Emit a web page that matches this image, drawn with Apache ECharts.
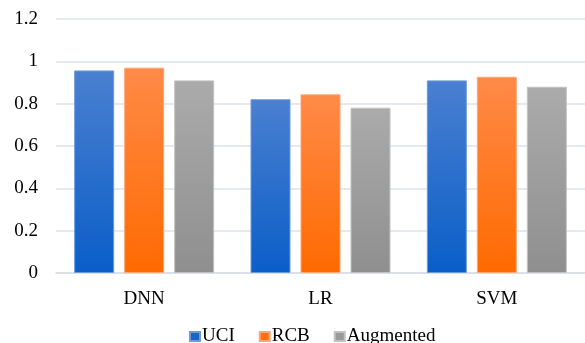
<!DOCTYPE html>
<html>
<head>
<meta charset="utf-8">
<script src="https://cdn.jsdelivr.net/npm/echarts@6/dist/echarts.min.js"></script>
<style>
  html, body { margin: 0; padding: 0; background: #fff; }
  #chart { width: 585px; height: 343px; }
</style>
</head>
<body>
<div id="chart"></div>
<script>
// Classifier accuracy per dataset
var categories = ['DNN', 'LR', 'SVM'];
var uciValues = [0.957, 0.821, 0.910];
var rcbValues = [0.970, 0.844, 0.927];
var augmentedValues = [0.910, 0.781, 0.880];
var seriesNames = ['UCI', 'RCB', 'Augmented'];

function grad(top, bottom) {
  return new echarts.graphic.LinearGradient(0, 0, 0, 1, [
    { offset: 0, color: top },
    { offset: 1, color: bottom }
  ]);
}

var font = '"Liberation Serif", "Times New Roman", serif';

function barSeries(name, data, top, bottom, edge) {
  return {
    name: name,
    type: 'bar',
    data: data,
    barWidth: 40,
    barGap: '25%',
    itemStyle: { color: grad(top, bottom), borderColor: edge, borderWidth: 1 }
  };
}

var chart = echarts.init(document.getElementById('chart'), null, { renderer: 'canvas' });
chart.setOption({
  animation: false,
  grid: { left: 56, right: -1, top: 19, bottom: 70, containLabel: false },
  legend: {
    top: 322,
    left: 184,
    itemWidth: 10,
    itemHeight: 9,
    itemGap: 24,
    icon: 'rect',
    textStyle: { fontFamily: font, fontSize: 19, color: '#000', padding: [0, 0, 0, -3] },
    data: [
      { name: 'UCI', itemStyle: { color: '#1a64c8' } },
      { name: 'RCB', itemStyle: { color: '#ff6f10' } },
      { name: 'Augmented', itemStyle: { color: '#999999' } }
    ]
  },
  xAxis: {
    type: 'category',
    data: categories,
    axisLine: { lineStyle: { color: '#d9dee6', width: 1.5 } },
    axisTick: { show: false },
    axisLabel: { fontFamily: font, fontSize: 19, color: '#000', margin: 17 }
  },
  yAxis: {
    type: 'value',
    min: 0,
    max: 1.2,
    interval: 0.2,
    axisLine: { show: false },
    axisTick: { show: false },
    splitLine: { lineStyle: { color: '#dde3ec', width: 1.5 } },
    axisLabel: {
      fontFamily: font, fontSize: 19, color: '#000', margin: 18,
      formatter: function (v) { return String(Math.round(v * 10) / 10); }
    }
  },
  series: [
    barSeries(seriesNames[0], uciValues, '#4a80d0', '#0a5ec8', '#6f9ad8'),
    barSeries(seriesNames[1], rcbValues, '#ff8a48', '#ff6a00', '#ffa676'),
    barSeries(seriesNames[2], augmentedValues, '#ababab', '#8f8f8f', '#c2c2c2')
  ]
});
</script>
</body>
</html>
